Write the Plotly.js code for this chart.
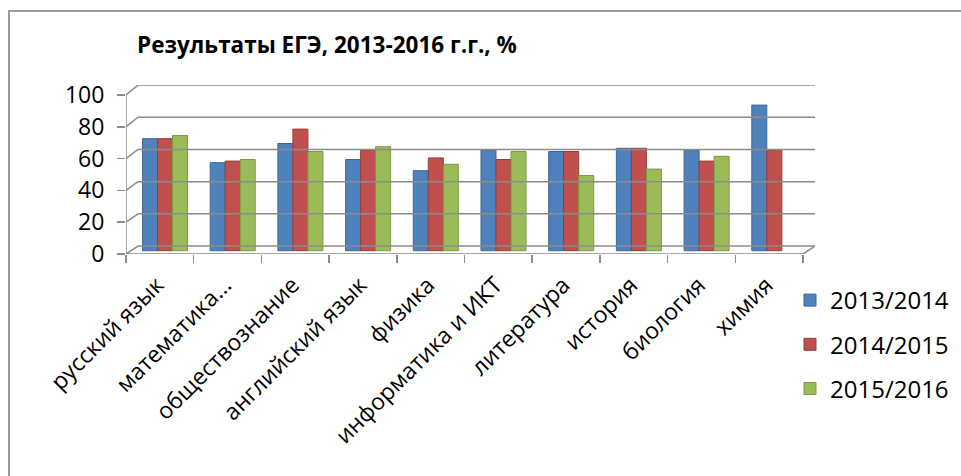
<!DOCTYPE html>
<html>
<head>
<meta charset="utf-8">
<script src="https://cdn.plot.ly/plotly-3.0.1.min.js"></script>
<style>
html,body{margin:0;padding:0;background:#fff;}
#wrap{position:relative;width:961px;height:476px;overflow:hidden;}
#chart{width:961px;height:476px;}
#frame{position:absolute;left:8px;top:10px;width:1000px;height:600px;border-top:2px solid #9a9a9a;border-left:2px solid #9a9a9a;pointer-events:none;}
</style>
</head>
<body>
<div id="wrap"><div id="chart"></div><div id="frame"></div></div>
<script>
const categories = ["русский язык", "математика...", "обществознание", "английский язык", "физика",
  "информатика и ИКТ", "литература", "история", "биология", "химия"];
const seriesNames = ["2013/2014", "2014/2015", "2015/2016"];
const values2013 = [70, 55, 67, 57, 50, 63, 62, 64, 63, 91];
const values2014 = [70, 56, 76, 63, 58, 57, 62, 64, 56, 63];
const values2015 = [72, 57, 62, 65, 54, 62, 47, 51, 59, null];
const yTicks = [0, 20, 40, 60, 80, 100];
const colors = ["#4F81BD", "#C0504D", "#9BBB59"];
const edgeColors = ["#3B6797", "#9A3B39", "#7A9A40"];

// pixel geometry of the plot frame
const L = 126, R = 815, T = 85, B = 254;
const W = R - L, H = B - T;
const catPx = 67.7;               // category width in px on the front axis
const pxPerUnit = 1.59;           // front y scale
const depthX = 12 / catPx;        // back wall x offset in x2 units
const backOffset = 5, backScale = 1.0125;
const frontRange = [0, H / pxPerUnit];
const x2Range = [-0.5, -0.5 + W / catPx];
const barCenter0 = L + 39;          // first group center px
const xRange = [-(barCenter0 - L) / catPx, -(barCenter0 - L) / catPx + W / catPx];
const y2Range = [-(B - 250.7) / 1.6, (250.7 - T) / 1.6];

const allValues = [values2013, values2014, values2015];
const traces = allValues.map((vals, i) => ({
  type: "bar",
  name: seriesNames[i],
  x: categories,
  y: vals,
  xaxis: "x",
  yaxis: "y2",
  legendgroup: "g" + i,
  marker: {color: colors[i], line: {color: edgeColors[i], width: 1}},
  hoverinfo: "x+y+name"
}));
// invisible helper trace for front axes
traces.push({type: "scatter", x: [x2Range[0]], y: [0], xaxis: "x2", yaxis: "y",
  mode: "markers", marker: {opacity: 0}, showlegend: false, hoverinfo: "skip"});

const gridColor = "#8C8C8C";
const shapes = [];
yTicks.forEach(g => {
  const back = backOffset + backScale * g;
  shapes.push({type: "line", xref: "x2", yref: "y", x0: -0.5, y0: g, x1: -0.5 + depthX, y1: back,
    line: {color: gridColor, width: 1.5}, layer: "below"});
  shapes.push({type: "line", xref: "x2", yref: "y", x0: -0.5 + depthX, y0: back, x1: x2Range[1], y1: back,
    line: {color: gridColor, width: 1.5}, layer: "below"});
});
// front vertical axis
shapes.push({type: "line", xref: "x2", yref: "y", x0: -0.5, y0: 0, x1: -0.5, y1: 100,
  line: {color: gridColor, width: 1.5}, layer: "below"});
// front floor edge and right diagonal
shapes.push({type: "line", xref: "x2", yref: "y", x0: -0.5, y0: 0, x1: categories.length - 0.5, y1: 0,
  line: {color: gridColor, width: 1.5}, layer: "below"});
shapes.push({type: "line", xref: "x2", yref: "y", x0: categories.length - 0.5, y0: 0,
  x1: categories.length - 0.5 + depthX, y1: backOffset,
  line: {color: gridColor, width: 1.5}, layer: "below"});

const font = "Open Sans, Noto Sans, sans-serif";
const layout = {
  width: 961, height: 476,
  margin: {l: L, r: 961 - R, t: T, b: 476 - B, pad: 0, autoexpand: false},
  paper_bgcolor: "#fff", plot_bgcolor: "rgba(0,0,0,0)",
  font: {family: font, size: 22, color: "#000"},
  title: {text: "<b>Результаты ЕГЭ, 2013-2016 г.г., %</b>", font: {family: font, size: 22.5, color: "#000"},
    xref: "container", yref: "container", x: 327 / 961, xanchor: "center", y: 1 - 45 / 476, yanchor: "middle"},
  barmode: "group", bargap: 0.335, bargroupgap: 0,
  xaxis: {type: "category", range: xRange, showgrid: false, zeroline: false, showline: false, automargin: false,
    ticks: "", tickangle: -45, tickfont: {family: font, size: 23, color: "#000"},
    ticklabelstandoff: 12, ticklabelshift: -8, fixedrange: true},
  xaxis2: {overlaying: "x", anchor: "y", side: "bottom", range: x2Range, showgrid: false, zeroline: false, automargin: false,
    showline: false, tickvals: categories.map((c, i) => i - 0.5).concat([categories.length - 0.5]),
    ticks: "outside", ticklen: 8, tickwidth: 1.5, tickcolor: gridColor, showticklabels: false},
  yaxis: {range: frontRange, tickvals: yTicks, ticks: "outside", ticklen: 8, tickwidth: 1.5, tickcolor: gridColor, automargin: false,
    showgrid: false, zeroline: false, showline: false, tickfont: {family: font, size: 23, color: "#000"}, ticklabelstandoff: 8},
  yaxis2: {overlaying: "y", range: y2Range, visible: false, showgrid: false, zeroline: false, automargin: false},
  legend: {orientation: "v", xref: "container", yref: "container", x: 790 / 961, xanchor: "left",
    y: 1 - 278 / 476, yanchor: "top", tracegroupgap: 10, font: {family: font, size: 24, color: "#000"},
    bgcolor: "rgba(0,0,0,0)"},
  shapes: shapes,
  showlegend: true
};
Plotly.newPlot("chart", traces, layout, {displayModeBar: false, staticPlot: true});
</script>
</body>
</html>
